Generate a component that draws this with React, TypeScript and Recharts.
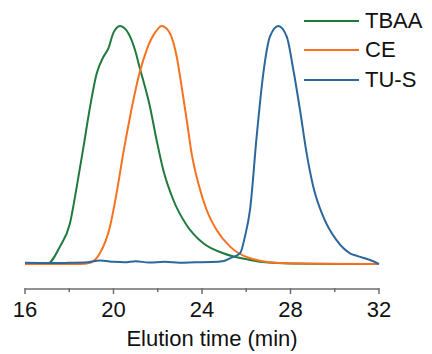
import { LineChart, Line, XAxis, YAxis } from "recharts";

// elution time (min) and normalised detector signal for each sample
const tbaaTime = [16, 17, 17.58, 18.03, 18.34, 18.64, 18.94, 19.24, 19.54, 19.77, 19.99, 20.29, 20.67, 20.97, 21.17, 21.65, 21.95, 22.25, 22.7, 23.3, 24.06, 24.96, 26.17, 27, 28, 30, 32];
const tbaaSignal = [0, 0, 7.3, 17, 32.5, 49, 66, 80, 87, 90.6, 97, 100, 97, 90, 83, 66, 52, 39.5, 27, 16.4, 8.7, 4.5, 1.7, 0.6, 0.2, 0, 0];

const ceTime = [16, 18.5, 18.94, 19.39, 19.84, 20.14, 20.44, 20.75, 21.17, 21.5, 21.9, 22.18, 22.55, 22.86, 23.08, 23.31, 23.53, 23.83, 24.21, 24.66, 25.27, 26.17, 27.5, 29, 32];
const ceSignal = [0, 0, 0.5, 4.6, 15.7, 29.8, 46.5, 62, 80, 90, 97.5, 100, 97, 87, 74.5, 60.5, 46.5, 34, 22.7, 14.3, 7.3, 2.4, 0.4, 0.1, 0];

const tusTime = [16, 17, 18, 18.7, 19.4, 20, 20.5, 21, 21.6, 22.3, 23, 23.7, 24.4, 25, 25.27, 25.72, 25.94, 26.17, 26.47, 26.77, 27.07, 27.45, 27.83, 28.13, 28.43, 28.73, 29.03, 29.48, 30.08, 30.69, 31.0, 31.6, 32];
const tusSignal = [0.5, 0.4, 0.5, 0.6, 1.5, 0.9, 0.7, 1.2, 0.6, 0.9, 0.5, 0.7, 0.8, 1.3, 2.4, 4.5, 11.5, 22.7, 53.5, 80, 95.5, 100, 95.5, 81.5, 64.7, 46.5, 32.5, 19.9, 10, 4.5, 3.4, 1.7, 0];

const majorTicks = [16, 20, 24, 28, 32];
const allTicks = [16, 18, 20, 22, 24, 26, 28, 30, 32];

const SERIES = [
	{ name: "TBAA", color: "#1f7a3c", time: tbaaTime, signal: tbaaSignal },
	{ name: "CE", color: "#f8711f", time: ceTime, signal: ceSignal },
	{ name: "TU-S", color: "#2c679c", time: tusTime, signal: tusSignal },
];

const FONT = "'Liberation Sans', Arial, sans-serif";

function TimeTick(props: any) {
	const { x, y, payload } = props;
	const major = majorTicks.includes(payload.value);
	return (
		<g>
			<line x1={x} x2={x} y1={y - 1} y2={y + (major ? 5 : 3)} stroke="#6e6e6e" strokeWidth={1.5} />
			{major && (
				<text x={x} y={y + 28} textAnchor="middle" fontSize={22} fill="#111" fontFamily={FONT}>
					{payload.value}
				</text>
			)}
		</g>
	);
}

function SampleLegend() {
	return (
		<div style={{ position: "absolute", left: 304, top: 6, fontFamily: FONT, fontSize: 22, color: "#111" }}>
			{SERIES.map((s) => (
				<div key={s.name} style={{ display: "flex", alignItems: "center", height: 29.5 }}>
					<div style={{ width: 55, height: 2, background: s.color, marginRight: 6 }} />
					<span>{s.name}</span>
				</div>
			))}
		</div>
	);
}

export default function App() {
	return (
		<div style={{ position: "absolute", left: 0, top: 0, width: 432, height: 354 }}>
			<LineChart width={432} height={354} margin={{ top: 26, right: 53, left: 25, bottom: 0 }}>
				<XAxis
					type="number"
					dataKey="t"
					domain={[16, 32]}
					ticks={allTicks}
					allowDuplicatedCategory={false}
					tickSize={0}
					tickMargin={0}
					tickLine={false}
					tick={<TimeTick />}
					axisLine={{ stroke: "#6e6e6e", strokeWidth: 1.5 }}
					interval={0}
					height={65}
				/>
				<YAxis hide domain={[-10.5, 100]} type="number" />
				{SERIES.map((s) => (
					<Line
						key={s.name}
						name={s.name}
						data={s.time.map((t, i) => ({ t, v: s.signal[i] }))}
						dataKey="v"
						type="monotone"
						stroke={s.color}
						strokeWidth={2}
						dot={false}
						isAnimationActive={false}
					/>
				))}
				<text x={212} y={346} textAnchor="middle" fontSize={22} fill="#111" fontFamily={FONT}>
					Elution time (min)
				</text>
			</LineChart>
			<SampleLegend />
		</div>
	);
}
